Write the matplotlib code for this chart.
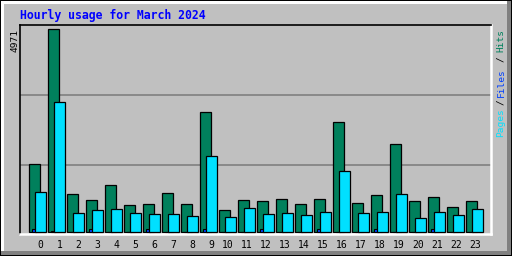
import matplotlib
matplotlib.use("Agg")
import matplotlib.pyplot as plt
from matplotlib.patches import Rectangle

# =====================================================================
# DATA
# =====================================================================

hours = list(range(24))
hits = [1665, 4971, 931, 791, 1151, 661, 686, 955, 686, 2940, 539, 791,
        767, 816, 686, 816, 2694, 710, 914, 2163, 767, 865, 620, 767]
files = [80, 20, 0, 80, 0, 0, 80, 0, 0, 80, 0, 0,
         80, 0, 0, 80, 0, 0, 80, 0, 0, 80, 0, 0]
pages = [987, 3184, 473, 546, 571, 473, 448, 448, 399, 1869, 375, 595,
         448, 473, 424, 497, 1501, 473, 497, 938, 350, 497, 424, 571]
grid_values = [1650, 3360]
y_max = 4971
title = "Hourly usage for March 2024"

# =====================================================================
# STYLE
# =====================================================================

HIT_COLOR = "#00805C"
FILE_COLOR = "#0040FF"
PAGE_COLOR = "#00E0FF"
BG = "#C0C0C0"
MONO = "DejaVu Sans Mono"

W, H = 512, 256
fig = plt.figure(figsize=(W / 100, H / 100), dpi=100)

# outer bevelled frame, drawn in pixel units
bg = fig.add_axes([0, 0, 1, 1])
bg.set_xlim(0, W)
bg.set_ylim(H, 0)
bg.axis("off")
bg.add_patch(Rectangle((0, 0), W, H, color="black", lw=0))
bg.add_patch(Rectangle((1, 1), W - 2, H - 2, color="#808080", lw=0))
bg.add_patch(Rectangle((1, 1), W - 6, H - 6, color="white", lw=0))
bg.add_patch(Rectangle((4, 4), W - 9, H - 9, color=BG, lw=0))

# plot area: px 20..491 horizontally, 25..234 vertically
px_left, px_right, px_top, px_bot = 20, 491, 25, 234
ax = fig.add_axes([px_left / W, 1 - px_bot / H,
                   (px_right - px_left) / W, (px_bot - px_top) / H])
ax.set_facecolor(BG)

step = 19.0                       # pixels per hour
x0 = -(29.3 - px_left) / step
ax.set_xlim(x0, x0 + (px_right - px_left) / step)

per_px = y_max / (232.3 - 29.3)
ax.set_ylim(-(px_bot - 232.3) * per_px, y_max + (29.3 - px_top) * per_px)

for g in grid_values:
    ax.axhline(g, color="#808080", lw=1.2, zorder=1)

bw = 10.5 / step
ax.bar(hours, hits, width=bw, align="edge", color=HIT_COLOR,
       edgecolor="black", lw=0.9, zorder=2)
ax.bar([h + 2.8 / step for h in hours], files, width=3.5 / step, align="edge",
       color=FILE_COLOR, edgecolor="black", lw=0.8, zorder=3)
ax.bar([h + 6.0 / step for h in hours], pages, width=bw, align="edge",
       color=PAGE_COLOR, edgecolor="black", lw=0.9, zorder=4)

ax.set_xticks([])
ax.set_yticks([])
for side in ("top", "left"):
    ax.spines[side].set_color("black")
    ax.spines[side].set_linewidth(1.2)
for side in ("bottom", "right"):
    ax.spines[side].set_color("white")
    ax.spines[side].set_linewidth(1.8)

# =====================================================================
# TEXT
# =====================================================================

bg.text(20, 19, title, color="#0000FF", family=MONO, weight="bold",
        fontsize=8.3, ha="left", va="baseline")

bg.text(15.5, 29, str(y_max), rotation=90, family=MONO, fontsize=6.8,
        ha="center", va="top", color="black")

for h in hours:
    bg.text(43.6 + step * h, 248, str(h), family=MONO, fontsize=7,
            ha="right", va="baseline", color="black")

legend_parts = [("Hits", HIT_COLOR, 41), ("/", "black", 59),
                ("Files", FILE_COLOR, 82.5), ("/", "black", 102),
                ("Pages", PAGE_COLOR, 122.5)]
for txt, col, yc in legend_parts:
    bg.text(501, yc, txt, rotation=90, family=MONO, fontsize=6.8,
            ha="center", va="center", color=col)

fig.savefig("out.png", dpi=100)
